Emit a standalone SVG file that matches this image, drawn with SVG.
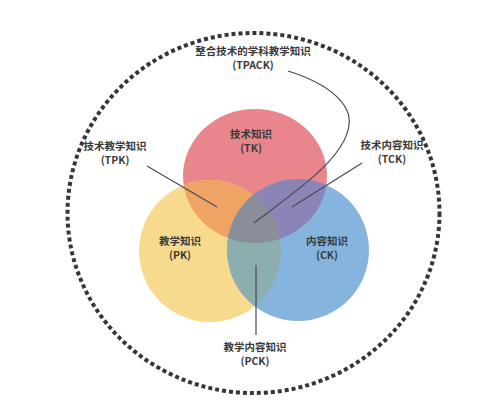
<svg xmlns="http://www.w3.org/2000/svg" width="493" height="404" viewBox="0 0 493 404">
<style>
.lbl{font-family:"Noto Sans CJK SC","Noto Sans",sans-serif;font-size:10.5px;font-weight:bold;fill:#3a3a3a;text-anchor:middle}
.conn{fill:none;stroke:#4a4a55;stroke-width:1.2}
</style>
<defs>
<clipPath id="cR"><ellipse cx="255" cy="176" rx="72" ry="67"/></clipPath>
<clipPath id="cY"><circle cx="210" cy="251" r="71"/></clipPath>
<clipPath id="cB"><circle cx="298" cy="250" r="71"/></clipPath>
</defs>
<rect width="493" height="404" fill="#ffffff"/>
<ellipse id="boundary" cx="253.5" cy="213" rx="186" ry="180" fill="none" stroke="#363636" stroke-width="4" stroke-dasharray="4 3"/>
<g id="TK"><ellipse cx="255" cy="176" rx="72" ry="67" fill="#E9868C"/></g>
<g id="PK"><circle cx="210" cy="251" r="71" fill="#F8DA8E"/></g>
<g id="CK"><circle cx="298" cy="250" r="71" fill="#85B4DF"/></g>
<g id="TPK"><circle cx="210" cy="251" r="71" fill="#EFA466" clip-path="url(#cR)"/></g>
<g id="TCK"><circle cx="298" cy="250" r="71" fill="#8B84B6" clip-path="url(#cR)"/></g>
<g id="PCK"><circle cx="298" cy="250" r="71" fill="#8CAEAE" clip-path="url(#cY)"/></g>
<g id="TPACK"><g clip-path="url(#cR)"><circle cx="298" cy="250" r="71" fill="#8A8E98" clip-path="url(#cY)"/></g></g>
<g id="connectors">
<path class="conn" d="M147,166 L217,207"/>
<path class="conn" d="M362,163 L292,207"/>
<path class="conn" d="M288,71 C330,84 352,105 349,125 C345,160 290,195 254,223"/>
<path class="conn" d="M256,265 L256,335"/>
</g>
<g id="labels">
<text class="lbl" x="253" y="55">整合技术的学科教学知识</text>
<text class="lbl" x="253" y="69">(TPACK)</text>
<text class="lbl" x="115" y="150">技术教学知识</text>
<text class="lbl" x="115" y="164">(TPK)</text>
<text class="lbl" x="392" y="149">技术内容知识</text>
<text class="lbl" x="392" y="163">(TCK)</text>
<text class="lbl" x="251" y="138">技术知识</text>
<text class="lbl" x="251" y="152">(TK)</text>
<text class="lbl" x="180" y="245">教学知识</text>
<text class="lbl" x="180" y="259">(PK)</text>
<text class="lbl" x="327" y="245">内容知识</text>
<text class="lbl" x="327" y="259">(CK)</text>
<text class="lbl" x="255" y="351">教学内容知识</text>
<text class="lbl" x="255" y="365">(PCK)</text>
</g>
</svg>
